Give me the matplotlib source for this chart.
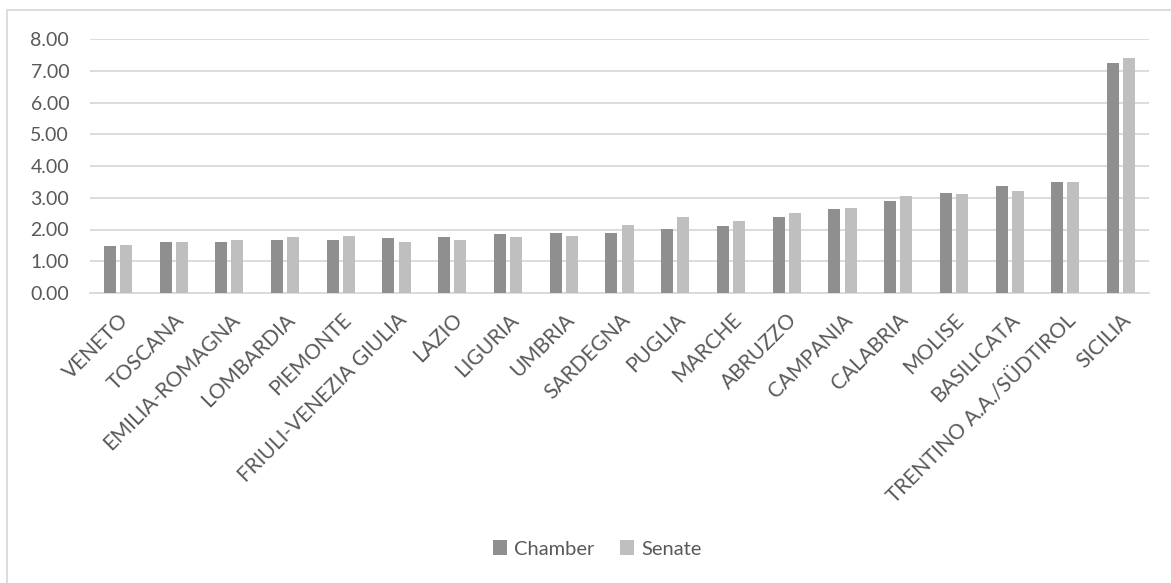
import numpy as np
import matplotlib
matplotlib.use('Agg')
import matplotlib.pyplot as plt
from matplotlib.patches import Rectangle

# data
regions = ['VENETO', 'TOSCANA', 'EMILIA-ROMAGNA', 'LOMBARDIA', 'PIEMONTE',
           'FRIULI-VENEZIA GIULIA', 'LAZIO', 'LIGURIA', 'UMBRIA', 'SARDEGNA',
           'PUGLIA', 'MARCHE', 'ABRUZZO', 'CAMPANIA', 'CALABRIA', 'MOLISE',
           'BASILICATA', 'TRENTINO A.A./SÜDTIROL', 'SICILIA']
chamber = [1.47, 1.60, 1.60, 1.68, 1.68, 1.72, 1.77, 1.85, 1.89, 1.89,
           2.02, 2.10, 2.40, 2.65, 2.90, 3.15, 3.36, 3.49, 7.23]
senate = [1.51, 1.60, 1.68, 1.77, 1.81, 1.60, 1.68, 1.77, 1.81, 2.13,
          2.39, 2.27, 2.52, 2.69, 3.07, 3.11, 3.20, 3.49, 7.40]
yticks = [0, 1, 2, 3, 4, 5, 6, 7, 8]

plt.rcParams['font.family'] = ['Lato', 'DejaVu Sans']

fig = plt.figure(figsize=(11.71, 5.83), dpi=100)
ax = fig.add_axes([90 / 1171, 290 / 583, 1059 / 1171, 254 / 583])

x = np.arange(len(regions))
w = 0.215
ax.bar(x - 0.145, chamber, w, color='#8f8f8f', label='Chamber', zorder=3)
ax.bar(x + 0.145, senate, w, color='#bfbfbf', label='Senate', zorder=3)

ax.set_xlim(-0.5, len(regions) - 0.5)
ax.set_ylim(0, 8)
ax.set_yticks(yticks)
ax.set_yticklabels(['%.2f' % v for v in yticks])
ax.grid(axis='y', color='#d9d9d9', linewidth=1.3, zorder=0)
for s in ['top', 'right', 'left']:
    ax.spines[s].set_visible(False)
ax.spines['bottom'].set_color('#d9d9d9')
ax.spines['bottom'].set_linewidth(1.3)
ax.tick_params(axis='both', length=0, colors='#595959', labelsize=14)
ax.tick_params(axis='y', pad=15)
ax.set_xticks(x)
ax.set_xticklabels(regions, rotation=45, ha='right', rotation_mode='anchor',
                   fontsize=15)
ax.tick_params(axis='x', pad=12)

fig.legend(loc='center', bbox_to_anchor=(0.51, 1 - 549 / 583), ncol=2,
           frameon=False, fontsize=14.5, labelcolor='#595959',
           handlelength=0.7, handleheight=0.7, handletextpad=0.35,
           columnspacing=1.3)

# chart border
fig.patches.append(Rectangle((7 / 1171, -0.05), 1.1, 0.05 + 573 / 583,
                             transform=fig.transFigure, fill=False,
                             edgecolor='#d9d9d9', linewidth=1.3))

fig.savefig('out.png', dpi=100)
